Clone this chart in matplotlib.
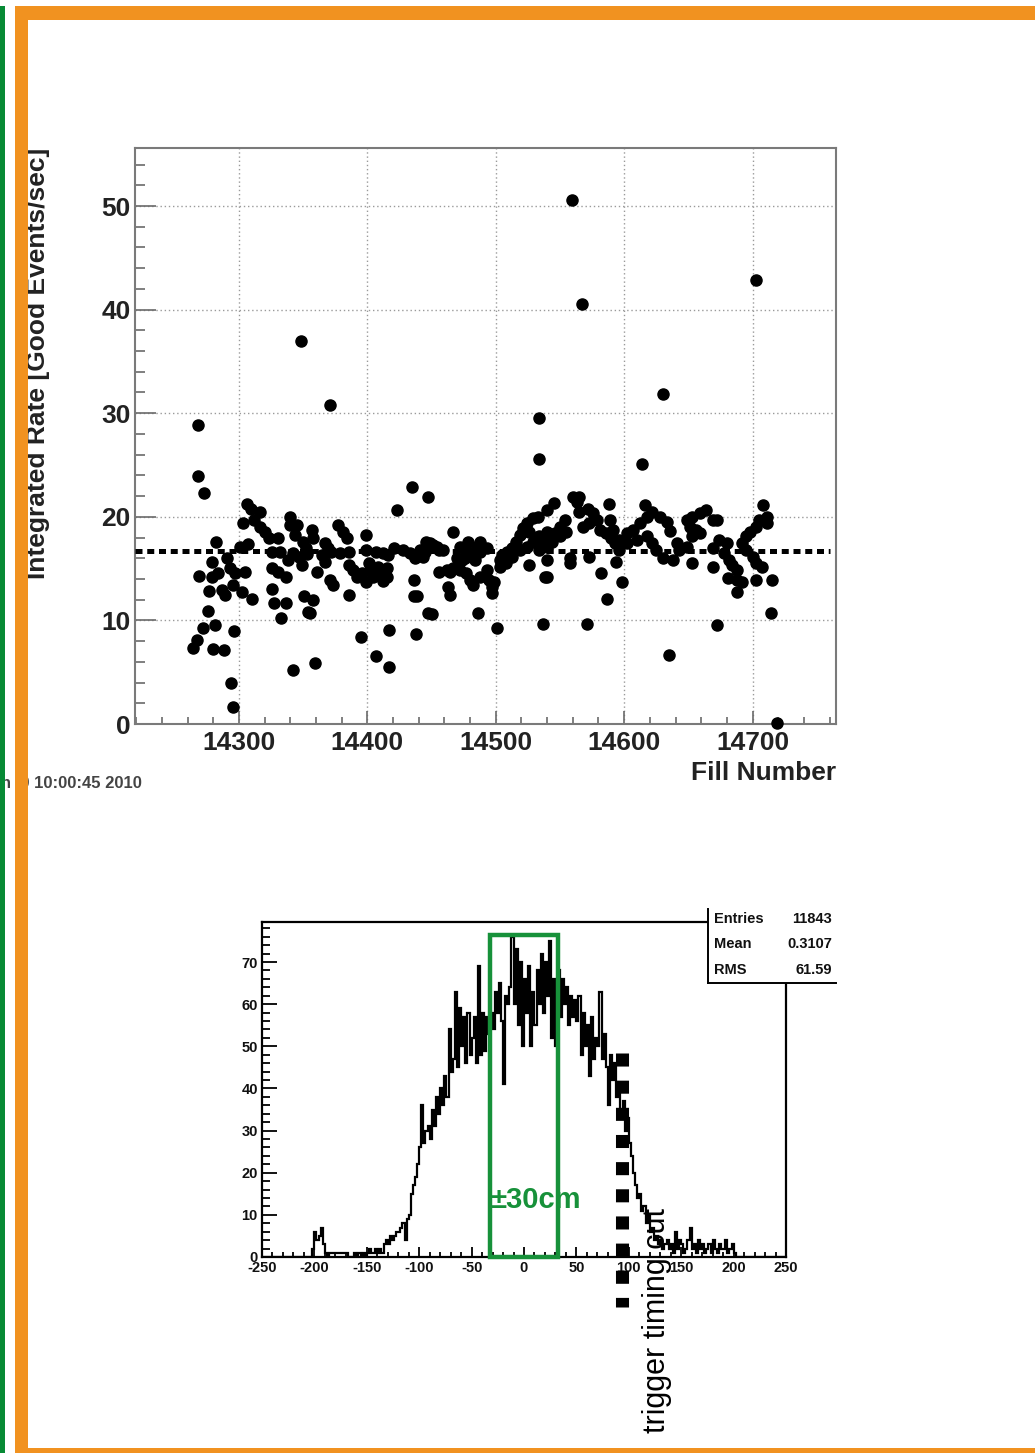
import matplotlib
matplotlib.use('Agg')
import matplotlib.pyplot as plt
from matplotlib.ticker import MultipleLocator
from matplotlib.patches import Rectangle
from matplotlib.lines import Line2D
import numpy as np

plt.rcParams['font.family'] = ['Liberation Sans', 'DejaVu Sans']
plt.rcParams['axes.unicode_minus'] = False

# ---------------- data: top scatter ----------------
fill_number = [
    14268, 14268, 14273, 14282, 14279, 14269, 14279, 14284, 14291, 14293,
    14297, 14305, 14277, 14287, 14289, 14295, 14302, 14310, 14276, 14272,
    14281, 14267, 14264, 14280, 14288, 14296, 14294, 14295, 14306, 14309,
    14303, 14316, 14312, 14316, 14320, 14323, 14330, 14301, 14307, 14326,
    14332, 14340, 14340, 14345, 14344, 14350, 14338, 14349, 14326, 14330,
    14337, 14326, 14327, 14337, 14333, 14351, 14354, 14342, 14348, 14371,
    14342, 14347,
    14357, 14358, 14352, 14353, 14377, 14381, 14384, 14367, 14369, 14365,
    14372, 14367, 14361, 14379, 14386, 14386, 14389, 14392, 14396, 14402,
    14404, 14399, 14410, 14415, 14415, 14408, 14399, 14399, 14407, 14416,
    14421, 14428, 14433, 14437, 14445, 14423, 14435, 14447, 14371, 14373,
    14358, 14355, 14386, 14436, 14436, 14439, 14447, 14395, 14417, 14438,
    14407, 14417, 14359, 14401, 14412,
    14467, 14446, 14451, 14456, 14441, 14443, 14472, 14478, 14477, 14488,
    14493, 14470, 14476, 14484, 14488, 14456, 14462, 14467, 14472, 14477,
    14480, 14482, 14488, 14493, 14495, 14463, 14464, 14497, 14497, 14499,
    14503, 14505, 14509, 14513, 14516, 14519, 14521, 14524, 14529, 14533,
    14540, 14503, 14508, 14513, 14519, 14524, 14529, 14534, 14540, 14534,
    14540, 14540, 14526, 14526, 14538, 14450, 14486, 14501, 14537, 14534,
    14534, 14464, 14474, 14480, 14485, 14412, 14449, 14454, 14459,
    14560, 14565, 14563, 14545, 14588, 14616, 14565, 14572, 14576, 14579,
    14581, 14573, 14568, 14554, 14550, 14546, 14537, 14544, 14550, 14555,
    14589, 14586, 14590, 14593, 14596, 14602, 14607, 14612, 14618, 14622,
    14628, 14610, 14618, 14622, 14625, 14596, 14591, 14602, 14558, 14558,
    14573, 14594, 14630, 14540, 14582, 14598, 14587, 14571, 14635, 14559,
    14567, 14614, 14630, 14703, 14719, 14633, 14636,
    14653, 14649, 14659, 14664, 14669, 14672, 14651, 14656, 14653, 14659,
    14649, 14643, 14641, 14638, 14653, 14669, 14669, 14674, 14680, 14678,
    14682, 14684, 14688, 14681, 14688, 14692, 14688, 14672, 14695, 14692,
    14695, 14698, 14703, 14705, 14711, 14711, 14708, 14700, 14703, 14707,
    14703, 14715, 14714,
]
rate = [
    28.9, 23.9, 22.3, 17.6, 15.6, 14.3, 14.2, 14.6, 16.0, 15.1,
    14.6, 14.7, 12.8, 12.9, 12.5, 13.4, 12.7, 12.1, 10.9, 9.3,
    9.6, 8.1, 7.3, 7.2, 7.1, 9.0, 4.0, 1.6, 21.2, 20.8,
    19.4, 20.5, 19.7, 19.0, 18.5, 18.0, 18.0, 17.1, 17.4, 16.6,
    16.6, 20.0, 19.2, 19.2, 18.2, 17.6, 15.8, 15.3, 15.1, 14.7,
    14.2, 13.0, 11.7, 11.7, 10.2, 12.4, 10.8, 5.2, 37.0, 30.8,
    16.5, 16.1,
    18.7, 18.0, 17.0, 16.4, 19.2, 18.5, 18.0, 17.5, 17.0, 16.3,
    16.6, 15.6, 14.7, 16.5, 16.6, 15.3, 14.9, 14.2, 14.6, 14.9,
    14.2, 13.7, 14.6, 14.2, 15.1, 15.2, 18.2, 16.8, 16.6, 16.3,
    17.0, 16.8, 16.5, 16.0, 16.6, 20.7, 22.9, 21.9, 13.9, 13.4,
    12.0, 10.7, 12.5, 13.9, 12.4, 12.4, 10.7, 8.4, 9.1, 8.7,
    6.6, 5.5, 5.9, 15.5, 13.8,
    18.5, 17.6, 17.3, 16.8, 16.8, 16.1, 17.1, 17.6, 16.6, 17.6,
    17.0, 16.0, 16.0, 15.8, 16.6, 14.7, 14.9, 15.1, 14.9, 14.6,
    13.9, 13.4, 14.2, 14.9, 13.9, 13.2, 12.5, 13.2, 12.6, 13.7,
    15.8, 16.3, 16.6, 17.0, 17.6, 18.2, 18.9, 19.4, 19.9, 20.0,
    20.7, 15.2, 15.5, 16.1, 16.8, 17.1, 17.6, 18.1, 18.5, 16.8,
    17.1, 15.8, 18.5, 15.3, 14.2, 10.6, 10.7, 9.3, 9.7, 29.5,
    25.6, 14.7, 15.8, 16.5, 17.1, 16.5, 17.5, 17.1, 16.8,
    21.9, 21.9, 21.4, 21.3, 21.2, 21.1, 20.5, 20.8, 20.4, 19.7,
    18.7, 19.4, 19.0, 19.7, 19.0, 18.4, 17.8, 17.6, 18.1, 18.5,
    19.7, 18.4, 18.0, 17.5, 17.8, 18.4, 18.7, 19.4, 20.0, 20.5,
    20.0, 17.8, 18.1, 17.5, 16.8, 16.8, 18.7, 17.5, 16.0, 15.5,
    16.1, 15.6, 16.0, 14.2, 14.6, 13.7, 12.1, 9.7, 6.7, 50.6,
    40.5, 25.1, 31.9, 42.9, 0.1, 19.5, 18.6,
    20.0, 19.7, 20.4, 20.7, 19.7, 19.7, 19.0, 18.7, 18.1, 18.4,
    17.1, 16.8, 17.5, 15.8, 15.5, 17.0, 15.2, 17.8, 17.5, 16.5,
    15.8, 15.3, 14.9, 14.1, 13.9, 13.7, 12.7, 9.6, 16.8, 17.5,
    18.1, 18.5, 19.0, 19.7, 19.4, 20.0, 21.1, 16.1, 15.5, 15.2,
    13.9, 13.9, 10.7,
]
mean_rate = 16.7

# ---------------- data: bottom histogram ----------------
hist_low, hist_high, hist_bin_width = -250, 250, 2
hist_counts = [
    0, 0, 0, 0, 0, 0, 0, 0, 0, 0,
    0, 0, 0, 0, 0, 0, 0, 0, 0, 0,
    0, 0, 0, 0, 2, 6, 4, 5, 7, 3,
    1, 0, 1, 1, 1, 1, 1, 1, 1, 1,
    1, 0, 0, 0, 1, 0, 1, 0, 1, 0,
    1, 2, 1, 1, 2, 1, 2, 1, 3, 4,
    3, 5, 4, 5, 6, 6, 7, 8, 4, 9,
    10, 15, 17, 19, 22, 26, 36, 27, 30, 31,
    28, 35, 31, 38, 34, 40, 36, 43, 38, 54,
    44, 47, 63, 45, 59, 50, 57, 46, 58, 48,
    52, 57, 46, 69, 48, 58, 49, 57, 53, 58,
    54, 63, 58, 65, 56, 41, 62, 60, 64, 76,
    60, 73, 55, 70, 50, 66, 58, 69, 50, 63,
    55, 68, 60, 72, 58, 70, 62, 75, 52, 66,
    50, 68, 57, 66, 60, 64, 55, 62, 57, 61,
    56, 62, 48, 58, 50, 55, 43, 57, 47, 52,
    50, 63, 47, 53, 45, 36, 48, 42, 46, 38,
    40, 34, 37, 30, 33, 27, 24, 20, 17, 14,
    15, 11, 12, 8, 10, 6, 7, 4, 5, 3,
    4, 2, 3, 4, 2, 3, 1, 6, 2, 4,
    3, 1, 2, 4, 7, 2, 3, 1, 4, 2,
    3, 1, 2, 3, 1, 4, 2, 1, 3, 2,
    2, 4, 1, 2, 3, 1, 0, 0, 0, 0,
    0, 0, 0, 0, 0, 0, 0, 0, 0, 0,
    0, 0, 0, 0, 0, 0, 0, 0, 0, 0,
]
stats_labels = ['Entries', 'Mean', 'RMS']
stats_values = ['11843', '0.3107', '61.59']
window_lo, window_hi = -32.5, 32.5
cut_position = 93.5

W, H = 1035, 1453
fig = plt.figure(figsize=(W / 100, H / 100), dpi=100)

def fx(px):
    return px / W

def fy(py):
    return 1 - py / H

# ---------------- top plot ----------------
ax1 = fig.add_axes([fx(135), fy(724), (836 - 135) / W, (724 - 148) / H])
ax1.set_xlim(14219, 14765)
ax1.set_ylim(0, 55.6)
ax1.xaxis.set_major_locator(MultipleLocator(100))
ax1.xaxis.set_minor_locator(MultipleLocator(20))
ax1.yaxis.set_major_locator(MultipleLocator(10))
ax1.yaxis.set_minor_locator(MultipleLocator(2))
ax1.grid(True, which='major', color='#9a9a9a', linestyle=(0, (1, 2)), linewidth=1.0)
ax1.set_axisbelow(True)
ax1.plot(fill_number, rate, 'o', color='black', markersize=8, clip_on=False, zorder=3)
ax1.hlines(mean_rate, 14219, 14760, colors='black', linewidth=3.6,
           linestyles=[(0, (1.4, 0.95))], zorder=4)
for s in ax1.spines.values():
    s.set_color('#7a7a7a')
    s.set_linewidth(1.5)
ax1.tick_params(axis='both', which='both', direction='in', color='#6a6a6a',
                top=False, right=False, width=1.2)
ax1.tick_params(axis='y', which='major', length=15, pad=3)
ax1.tick_params(axis='y', which='minor', length=7.5)
ax1.tick_params(axis='x', which='major', length=9.5, pad=5)
ax1.tick_params(axis='x', which='minor', length=5)
ax1.tick_params(axis='both', which='major', labelsize=19, labelcolor='#222222')
ax1.set_xticks([14300, 14400, 14500, 14600, 14700])
ax1.set_yticks([0, 10, 20, 30, 40, 50])
for lab in ax1.get_xticklabels() + ax1.get_yticklabels():
    lab.set_fontweight('bold')

fig.text(fx(38), fy(148), 'Integrated Rate [Good Events/sec]', rotation=90,
         ha='center', va='top', fontsize=19, fontweight='bold', color='#222222')
fig.text(fx(836), fy(773), 'Fill Number', ha='right', va='center',
         fontsize=19, fontweight='bold', color='#222222')
fig.text(fx(142), fy(783), 'Wed Jun  9 10:00:45 2010', ha='right', va='center',
         fontsize=12, fontweight='bold', color='#444444', zorder=0.5)

# ---------------- bottom histogram ----------------
ax2 = fig.add_axes([fx(262), fy(1257), (786 - 262) / W, (1257 - 922) / H])
edges = np.arange(hist_low, hist_high + hist_bin_width, hist_bin_width)
ax2.stairs(hist_counts, edges, color='black', linewidth=1.6)
ax2.set_xlim(hist_low, hist_high)
ax2.set_ylim(0, 79.5)
ax2.xaxis.set_major_locator(MultipleLocator(50))
ax2.xaxis.set_minor_locator(MultipleLocator(10))
ax2.yaxis.set_major_locator(MultipleLocator(10))
ax2.yaxis.set_minor_locator(MultipleLocator(2))
for s in ax2.spines.values():
    s.set_color('black')
    s.set_linewidth(1.6)
ax2.tick_params(axis='both', which='both', direction='in', color='black',
                top=False, right=False, width=1.3)
ax2.tick_params(axis='y', which='major', length=11, pad=3)
ax2.tick_params(axis='y', which='minor', length=5.5)
ax2.tick_params(axis='x', which='major', length=7, pad=3)
ax2.tick_params(axis='x', which='minor', length=3.6)
ax2.tick_params(axis='both', which='major', labelsize=10.5, labelcolor='#111111')
for lab in ax2.get_xticklabels() + ax2.get_yticklabels():
    lab.set_fontweight('bold')

green = '#17913a'
ax2.add_patch(Rectangle((window_lo, 0), window_hi - window_lo, 76.4, fill=False,
                        edgecolor=green, linewidth=3.2, clip_on=False, zorder=4))
ax2.text(10.5, 13.5, '±30cm', color=green, fontsize=21, fontweight='bold',
         ha='center', va='center', zorder=5)
ax2.plot([cut_position, cut_position], [48.4, -11.8], color='black', linewidth=9.4,
         dashes=(1.0, 1.08), dash_capstyle='butt', clip_on=False, zorder=5)
fig.text(fx(657), fy(1433), 'trigger timing cut', rotation=90, ha='center',
         va='bottom', fontsize=22, color='black', zorder=6)

# stats box
fig.add_artist(Rectangle((fx(708), fy(983)), (836 - 708) / W, (983 - 909) / H,
                         transform=fig.transFigure, facecolor='white',
                         edgecolor='none', zorder=2))
fig.add_artist(Line2D([fx(708), fx(708)], [fy(909), fy(983)], color='black',
                      linewidth=1.4, transform=fig.transFigure, zorder=3))
fig.add_artist(Line2D([fx(708), fx(836)], [fy(983), fy(983)], color='black',
                      linewidth=1.4, transform=fig.transFigure, zorder=3))
for i, (lab, val) in enumerate(zip(stats_labels, stats_values)):
    yy = fy(919 + 25.5 * i)
    fig.text(fx(714), yy, lab, ha='left', va='center', fontsize=10.5,
             fontweight='bold', color='#111111', zorder=4)
    fig.text(fx(832), yy, val, ha='right', va='center', fontsize=10.5,
             fontweight='bold', color='#111111', zorder=4)

# ---------------- slide borders ----------------
orange = '#F19220'
green_bar = '#078a35'
for rect in [
    ((fx(15), fy(20)), 1 - fx(15), 14 / H),
    ((fx(15), 0), 13 / W, 1 - 6 / H),
    ((fx(15), 0), 1 - fx(15), 5 / H),
]:
    fig.add_artist(Rectangle(rect[0], rect[1], rect[2], transform=fig.transFigure,
                             facecolor=orange, edgecolor='none', zorder=10))
fig.add_artist(Rectangle((0, 0), 5 / W, 1 - 6 / H, transform=fig.transFigure,
                         facecolor=green_bar, edgecolor='none', zorder=10))

fig.savefig('out.png', dpi=100)
